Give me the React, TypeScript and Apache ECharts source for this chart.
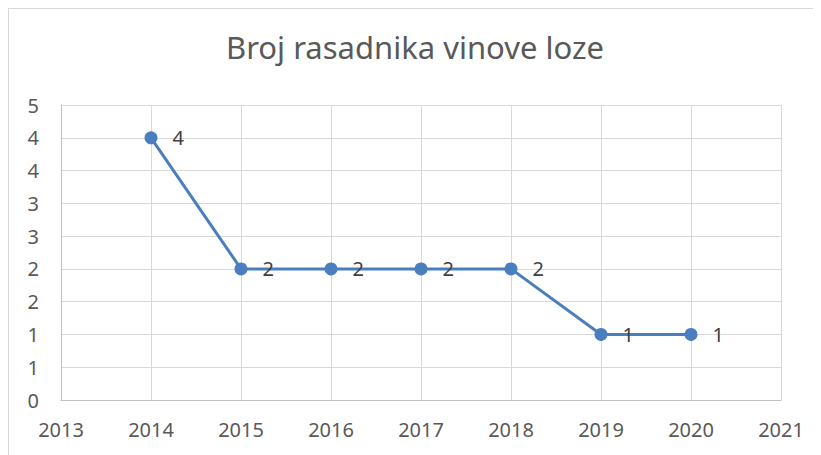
import React, { useEffect, useRef } from "react";
import * as echarts from "echarts";

const years = [2014, 2015, 2016, 2017, 2018, 2019, 2020];
const values = [4, 2, 2, 2, 2, 1, 1];
const titleText = "Broj rasadnika vinove loze";

export default function App() {
  const ref = useRef<HTMLDivElement>(null);
  useEffect(() => {
    const chart = echarts.init(ref.current!, undefined, { renderer: "svg" });
    const font = "'Noto Sans', Lato, sans-serif";
    chart.setOption({
      animation: false,
      title: {
        text: titleText,
        left: "center",
        top: 17,
        textStyle: { fontFamily: font, fontSize: 31, fontWeight: "normal", color: "#595959" },
      },
      grid: { left: 52, top: 96, right: 40, bottom: 55 },
      xAxis: {
        type: "value",
        min: 2013,
        max: 2021,
        interval: 1,
        axisLine: { show: true, lineStyle: { color: "#bfbfbf", width: 1 } },
        axisTick: { show: false },
        splitLine: { show: true, lineStyle: { color: "#d9d9d9", width: 1 } },
        axisLabel: {
          fontFamily: font,
          fontSize: 20,
          color: "#595959",
          margin: 19,
          formatter: (v: number) => String(v),
        },
      },
      yAxis: {
        type: "value",
        min: 0,
        max: 4.5,
        interval: 0.5,
        axisLine: { show: true, lineStyle: { color: "#bfbfbf", width: 1 } },
        axisTick: { show: false },
        splitLine: { show: true, lineStyle: { color: "#d9d9d9", width: 1 } },
        axisLabel: {
          fontFamily: font,
          fontSize: 20,
          color: "#595959",
          margin: 22,
          formatter: (v: number) => String(Math.round(v)),
        },
      },
      series: [
        {
          type: "line",
          data: years.map((y, i) => [y, values[i]]),
          symbol: "circle",
          symbolSize: 13,
          lineStyle: { color: "#4a7ebf", width: 3 },
          itemStyle: { color: "#4a7ebf" },
          label: {
            show: true,
            position: "right",
            distance: 15,
            fontFamily: font,
            fontSize: 20,
            color: "#404040",
            formatter: (p: any) => String(p.value[1]),
          },
        },
      ],
    });
    return () => chart.dispose();
  }, []);
  return (
    <div
      ref={ref}
      style={{
        width: 813,
        height: 447,
        borderLeft: "1px solid #d9d9d9",
        borderTop: "1px solid #d9d9d9",
        boxSizing: "border-box",
      }}
    />
  );
}
